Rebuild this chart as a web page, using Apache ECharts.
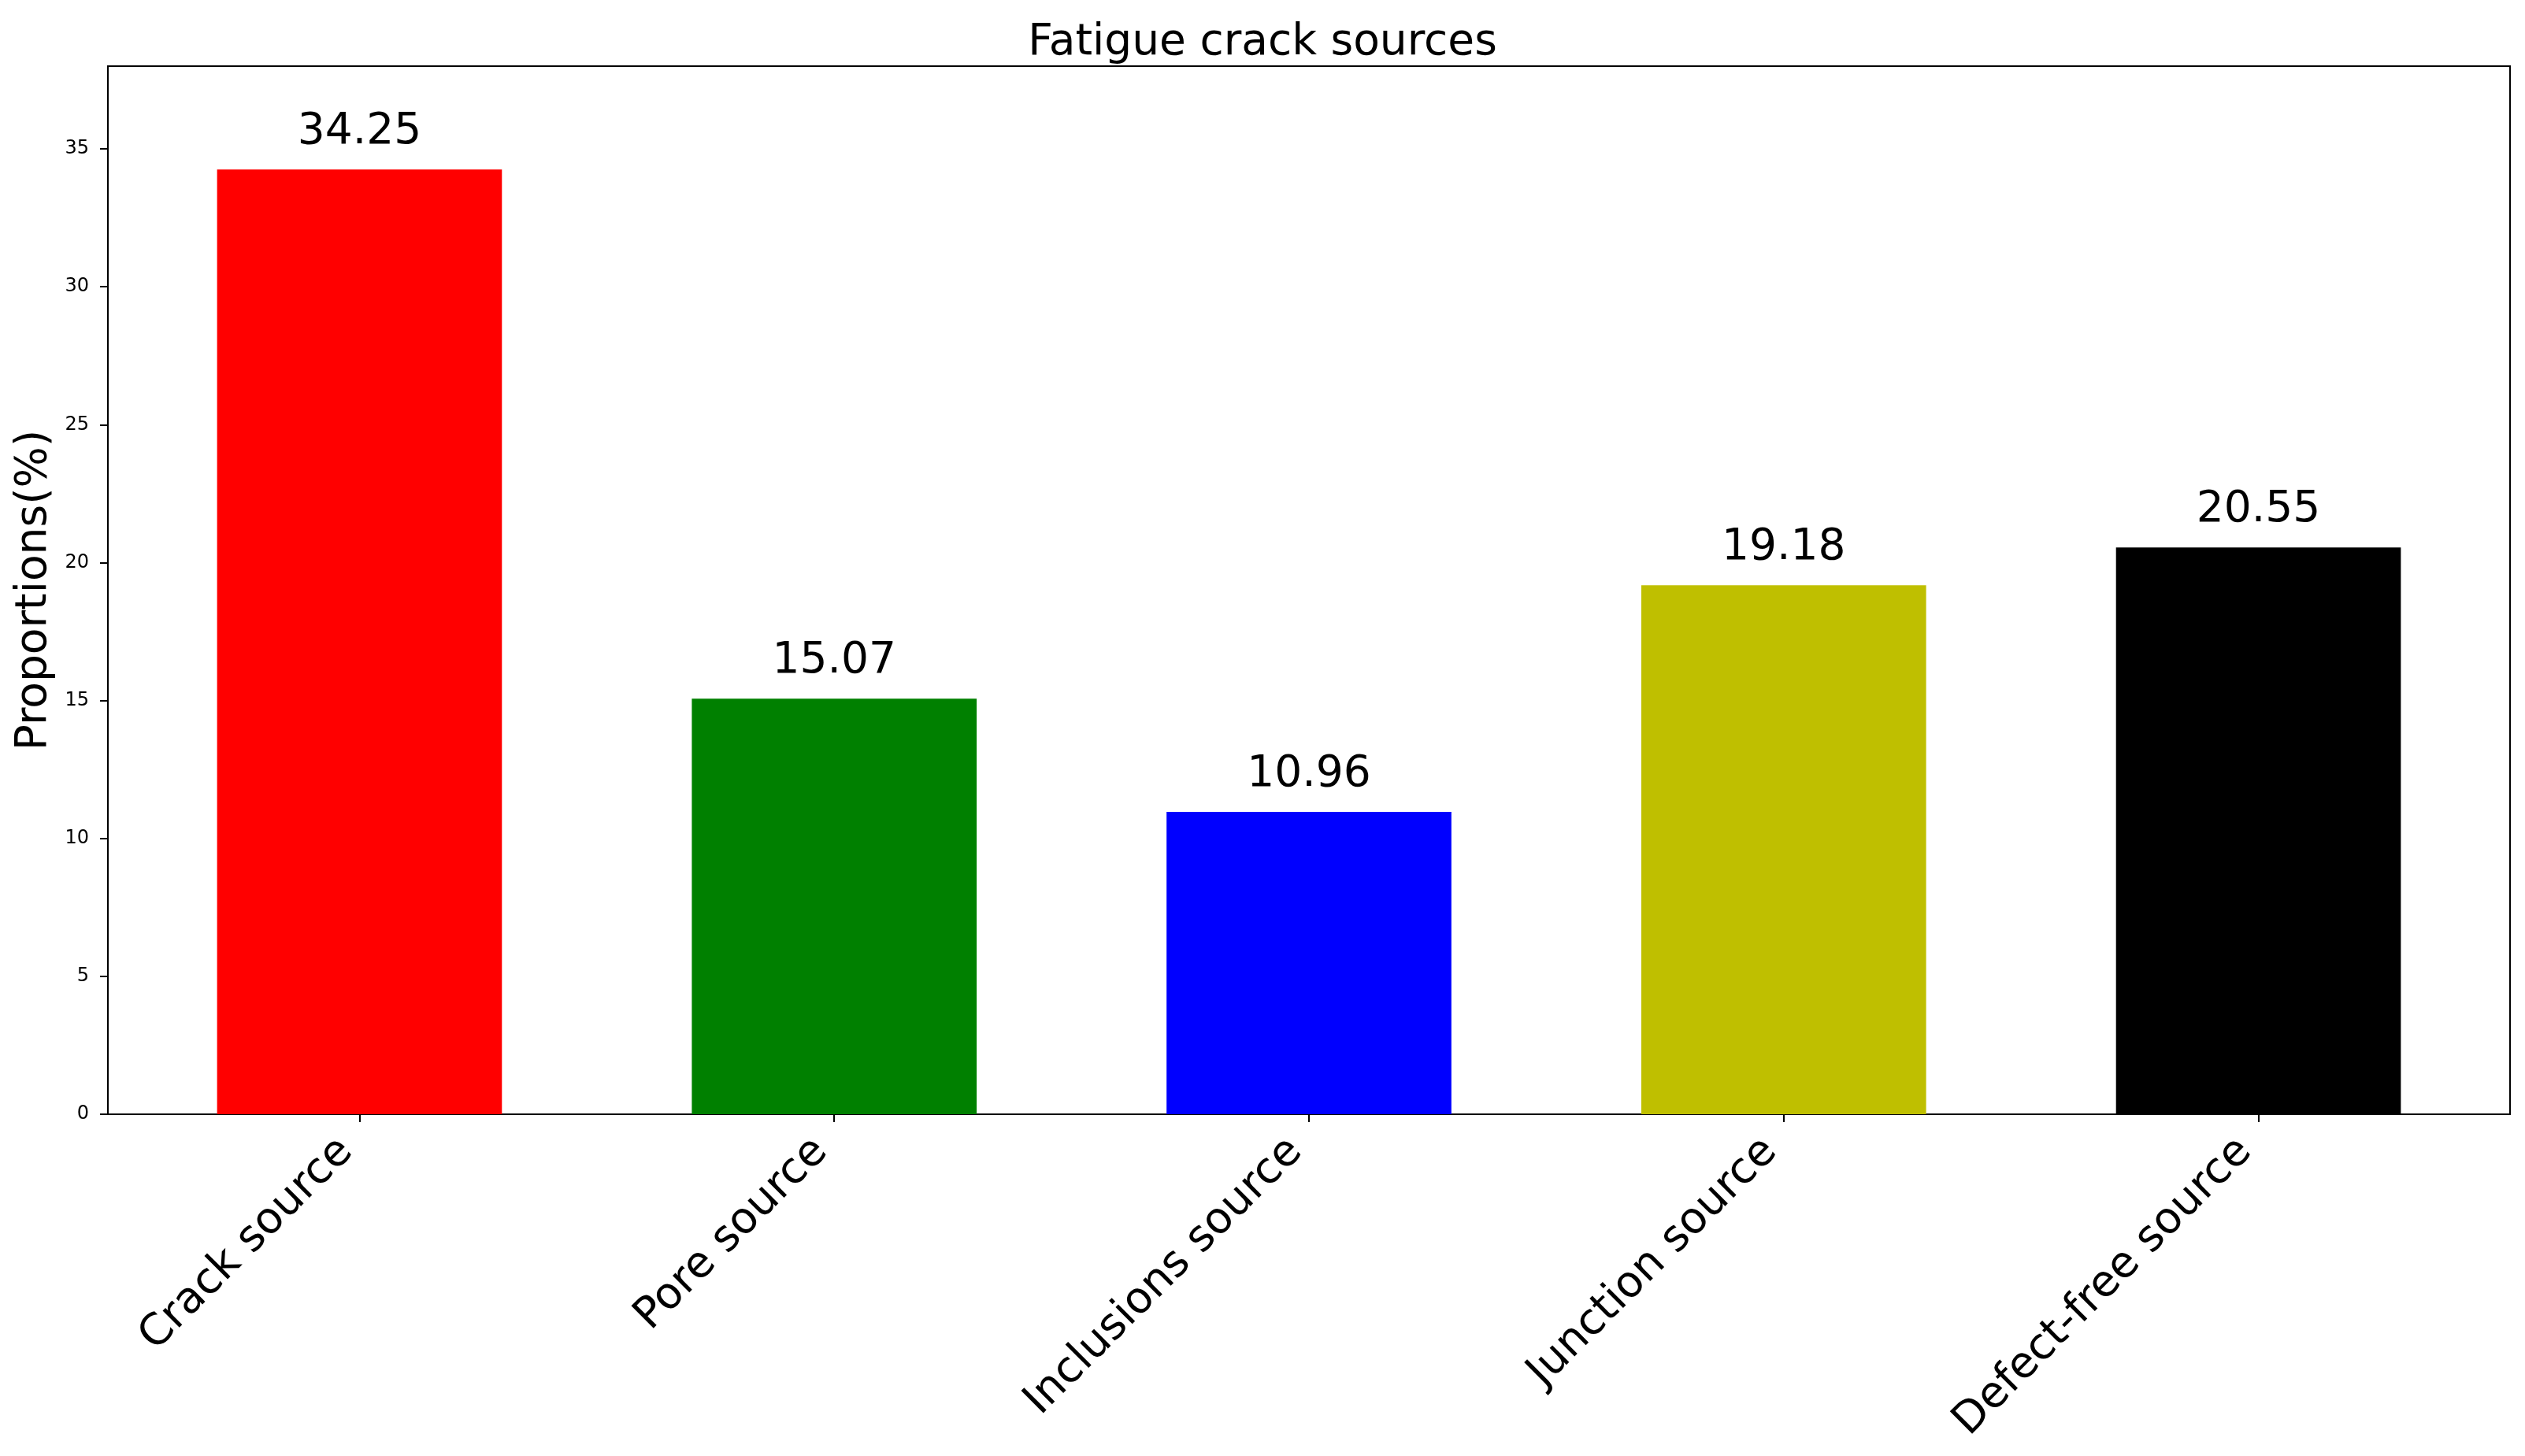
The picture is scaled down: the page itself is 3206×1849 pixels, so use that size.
<!DOCTYPE html>
<html><head><meta charset="utf-8">
<script src="https://cdn.jsdelivr.net/npm/echarts@6/dist/echarts.min.js"></script>
<style>html,body{margin:0;padding:0;background:#fff}#c{width:3206px;height:1849px}</style>
</head><body><div id="c"></div>
<script>
const categories = ["Crack source", "Pore source", "Inclusions source", "Junction source", "Defect-free source"];
const values = [34.25, 15.07, 10.96, 19.18, 20.55];
const barColors = ["#ff0000", "#008000", "#0000ff", "#bfbf00", "#000000"];
const yTicks = [0, 5, 10, 15, 20, 25, 30, 35];
const xPositions = [0, 1, 2, 3, 4];

const gridLeft = 137, gridRight = 3187, gridTop = 84, gridBottom = 1415;
const xMin = -0.53, xMax = 4.53;
const barW = 0.6 * (gridRight - gridLeft) / (xMax - xMin);
const FONT = "DejaVu Sans";

const chart = echarts.init(document.getElementById('c'));
chart.setOption({
  animation: false,
  backgroundColor: '#fff',
  title: {
    text: 'Fatigue crack sources', left: 'center', top: 22,
    textStyle: {fontFamily: FONT, fontSize: 55, fontWeight: 'normal', color: '#000'}
  },
  grid: {
    left: gridLeft, top: gridTop, width: gridRight - gridLeft, height: gridBottom - gridTop,
    show: true, borderColor: '#000', borderWidth: 2, backgroundColor: 'transparent'
  },
  xAxis: {
    type: 'value', min: xMin, max: xMax,
    splitLine: {show: false},
    axisLine: {show: true, onZero: false, lineStyle: {color: '#000', width: 2}},
    axisTick: {show: true, customValues: xPositions, length: 10, lineStyle: {color: '#000', width: 2}},
    axisLabel: {
      customValues: xPositions, rotate: 45, margin: 22, padding: [0, 24, 0, 0],
      fontFamily: FONT, fontSize: 55, color: '#000',
      formatter: v => categories[Math.round(v)]
    }
  },
  yAxis: {
    type: 'value', min: 0, max: 38,
    name: 'Proportions(%)', nameLocation: 'middle', nameGap: 56,
    nameTextStyle: {fontFamily: FONT, fontSize: 55, color: '#000'},
    splitLine: {show: false},
    axisLine: {show: true, onZero: false, lineStyle: {color: '#000', width: 2}},
    axisTick: {show: true, customValues: yTicks, length: 10, lineStyle: {color: '#000', width: 2}},
    axisLabel: {customValues: yTicks, margin: 24, fontFamily: FONT, fontSize: 24, color: '#000'}
  },
  series: [{
    type: 'bar',
    barWidth: barW,
    data: values.map((v, i) => ({value: [xPositions[i], v], itemStyle: {color: barColors[i]}})),
    label: {
      show: true, position: 'top', distance: 20,
      fontFamily: FONT, fontSize: 55, color: '#000',
      formatter: p => p.value[1].toFixed(2)
    }
  }]
});
</script></body></html>
